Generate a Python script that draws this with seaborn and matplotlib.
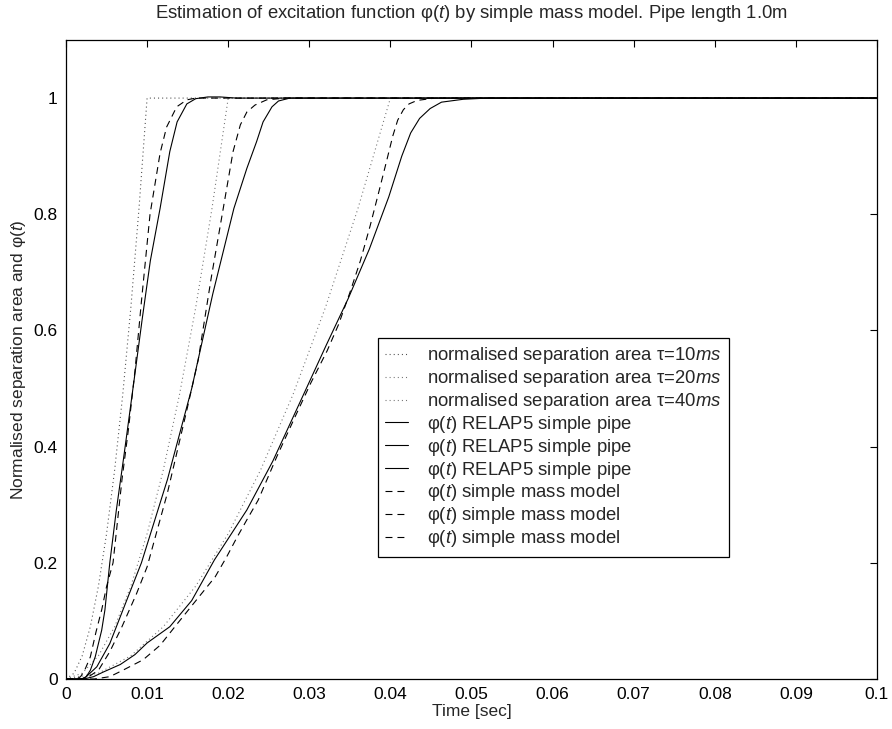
import matplotlib
matplotlib.use("Agg")
import matplotlib.pyplot as plt
from matplotlib.ticker import FixedLocator, FormatStrFormatter
import pandas as pd
import seaborn as sns

# ---- curve data: time [ms] and normalised value -----------------------------
# normalised separation area for three opening times
area_10_t = [0, 1, 2, 3, 4, 5, 6, 7, 8, 9, 10, 100]
area_10_v = [0, 0.01, 0.04, 0.09, 0.16, 0.25, 0.36, 0.49, 0.64, 0.81, 1.0, 1.0]
area_20_t = [0, 2, 4, 6, 8, 10, 12, 14, 16, 18, 20, 100]
area_20_v = [0, 0.01, 0.04, 0.09, 0.16, 0.25, 0.36, 0.49, 0.64, 0.81, 1.0, 1.0]
area_40_t = [0, 4, 8, 12, 16, 20, 24, 28, 32, 36, 40, 100]
area_40_v = [0, 0.01, 0.04, 0.09, 0.16, 0.25, 0.36, 0.49, 0.64, 0.81, 1.0, 1.0]

# phi(t) from RELAP5 simple pipe
relap_10_t = [0, 2.0, 2.5, 3.0, 3.6, 4.4, 4.8, 5.4, 6.2, 7.1, 8.4, 9.4, 10.4,
              11.6, 12.8, 13.7, 14.9, 16.0, 17.5, 19.0, 21.0, 100]
relap_10_v = [0, 0, 0.004, 0.015, 0.038, 0.084, 0.119, 0.2, 0.29, 0.38, 0.515,
              0.62, 0.72, 0.81, 0.908, 0.959, 0.99, 0.999, 1.002, 1.002, 1.0, 1.0]
relap_20_t = [0, 2.0, 2.5, 3.8, 5.4, 7.5, 9.3, 12.5, 15.5, 18.1, 20.7, 22.3,
              23.5, 24.3, 25.4, 26.2, 27.6, 30.0, 100]
relap_20_v = [0, 0, 0.004, 0.021, 0.061, 0.136, 0.2, 0.343, 0.5, 0.663, 0.81,
              0.879, 0.925, 0.959, 0.985, 0.995, 1.0, 1.0, 1.0]
relap_40_t = [0, 2.2, 3.4, 4.6, 6.7, 8.5, 10.0, 12.8, 15.5, 18.3, 22.3, 25.5,
              29.3, 32.1, 34.8, 37.4, 39.8, 41.4, 42.5, 43.6, 44.9, 46.3,
              49.0, 52.0, 100]
relap_40_v = [0, 0, 0.004, 0.012, 0.025, 0.042, 0.062, 0.09, 0.135, 0.205,
              0.291, 0.375, 0.49, 0.575, 0.655, 0.74, 0.83, 0.9, 0.94,
              0.965, 0.982, 0.993, 0.998, 1.0, 1.0]

# phi(t) from the simple mass model
mass_10_t = [0, 1.3, 1.8, 2.3, 3.0, 3.7, 4.4, 5.0, 5.8, 6.9, 7.7, 8.5, 9.3,
             10.36, 11.6, 12.4, 13.65, 14.9, 16.0, 100]
mass_10_v = [0, 0, 0.004, 0.015, 0.038, 0.081, 0.119, 0.159, 0.2, 0.343, 0.43,
             0.53, 0.65, 0.8, 0.905, 0.95, 0.985, 0.997, 1.0, 1.0]
mass_20_t = [0, 1.8, 2.8, 4.0, 5.4, 6.9, 8.7, 10.0, 12.5, 14.9, 16.3, 17.9,
             19.45, 20.6, 21.5, 22.3, 23.3, 24.75, 27.0, 100]
mass_20_v = [0, 0, 0.004, 0.015, 0.047, 0.09, 0.147, 0.193, 0.32, 0.463,
             0.549, 0.69, 0.815, 0.908, 0.954, 0.976, 0.988, 0.997, 1.0, 1.0]
mass_40_t = [0, 3.5, 5.4, 7.0, 9.5, 11.6, 13.6, 16.6, 18.4, 19.8, 21.05, 22.3,
             23.7, 26.0, 28.2, 30.2, 32.2, 33.6, 35.0, 36.3, 37.5, 38.6, 39.5,
             40.3, 40.9, 41.6, 42.3, 43.3, 45.5, 100]
mass_40_v = [0, 0, 0.004, 0.015, 0.033, 0.058, 0.093, 0.145, 0.176, 0.21,
             0.243, 0.274, 0.308, 0.383, 0.45, 0.51, 0.565, 0.61, 0.665, 0.72,
             0.78, 0.84, 0.89, 0.935, 0.962, 0.98, 0.99, 0.996, 1.0, 1.0]

area_label = "normalised separation area τ=$\\mathit{{{}ms}}$"
relap_label = "φ$\\mathit{(t)}$ RELAP5 simple pipe"
mass_label = "φ$\\mathit{(t)}$ simple mass model"

x_ticks = [0, 0.01, 0.02, 0.03, 0.04, 0.05, 0.06, 0.07, 0.08, 0.09, 0.1]
y_ticks = [0, 0.2, 0.4, 0.6, 0.8, 1.0]

# ---- style ------------------------------------------------------------------
sns.set_theme(style="white")
plt.rcParams.update({
    "font.family": ["Liberation Sans", "DejaVu Sans"],
    "font.size": 12.5,
    "mathtext.fontset": "custom",
    "mathtext.rm": "Liberation Sans",
    "mathtext.it": "Liberation Sans:italic",
    "mathtext.bf": "Liberation Sans:bold",
    "lines.scale_dashes": False,
    "axes.edgecolor": "black",
    "axes.linewidth": 0.9,
    "xtick.color": "black",
    "ytick.color": "black",
})

fig = plt.figure(figsize=(8.92, 7.29), dpi=100)
ax = fig.add_axes([0.07399, 0.06859, 0.90919, 0.87654])

dotted = (0, (0.75, 2.2))
dashed = (0, (5.0, 3.6))

series = [
    (area_10_t, area_10_v, area_label.format(10), "0.3", dotted),
    (area_20_t, area_20_v, area_label.format(20), "0.45", dotted),
    (area_40_t, area_40_v, area_label.format(40), "0.45", dotted),
    (relap_10_t, relap_10_v, relap_label, "black", "-"),
    (relap_20_t, relap_20_v, relap_label, "black", "-"),
    (relap_40_t, relap_40_v, relap_label, "black", "-"),
    (mass_10_t, mass_10_v, mass_label, "black", dashed),
    (mass_20_t, mass_20_v, mass_label, "black", dashed),
    (mass_40_t, mass_40_v, mass_label, "black", dashed),
]

handles = []
for t_ms, v, label, color, ls in series:
    df = pd.DataFrame({"time": [t / 1000.0 for t in t_ms], "value": v})
    sns.lineplot(data=df, x="time", y="value", ax=ax, color=color,
                 linestyle=ls, linewidth=0.8, estimator=None, sort=False,
                 label=label, legend=False)
    handles.append(ax.lines[-1])

ax.set_xlim(0, 0.1)
ax.set_ylim(0, 1.1)
ax.xaxis.set_major_locator(FixedLocator(x_ticks))
ax.yaxis.set_major_locator(FixedLocator(y_ticks))
ax.xaxis.set_major_formatter(FormatStrFormatter("%g"))
ax.yaxis.set_major_formatter(FormatStrFormatter("%g"))
ax.tick_params(direction="in", length=5, width=0.8, top=True, right=True,
               labelsize=12.5, pad=6)
for s in ax.spines.values():
    s.set_visible(True)
    s.set_color("black")

ax.set_xlabel("Time [sec]", fontsize=12.5)
ax.set_ylabel("Normalised separation area and φ$\\mathit{(t)}$", fontsize=12.5)
ax.xaxis.set_label_coords(0.5, -0.039)
ax.yaxis.set_label_coords(-0.047, 0.5)

fig.text(0.5286, 1 - 14 / 729,
         "Estimation of excitation function φ$\\mathit{(t)}$ by simple mass model. Pipe length 1.0m",
         ha="center", va="center", fontsize=13.3)

leg = ax.legend(handles=handles, labels=[h.get_label() for h in handles],
                loc="upper left", bbox_to_anchor=(378 / 892, 1 - 338 / 729),
                bbox_transform=fig.transFigure, frameon=True, fancybox=False,
                framealpha=1, edgecolor="black", fontsize=13.3,
                borderpad=0.4, labelspacing=0.1, handlelength=1.25,
                handletextpad=1.0, borderaxespad=0)
leg.get_frame().set_linewidth(0.9)

fig.savefig("out.png", dpi=100)
